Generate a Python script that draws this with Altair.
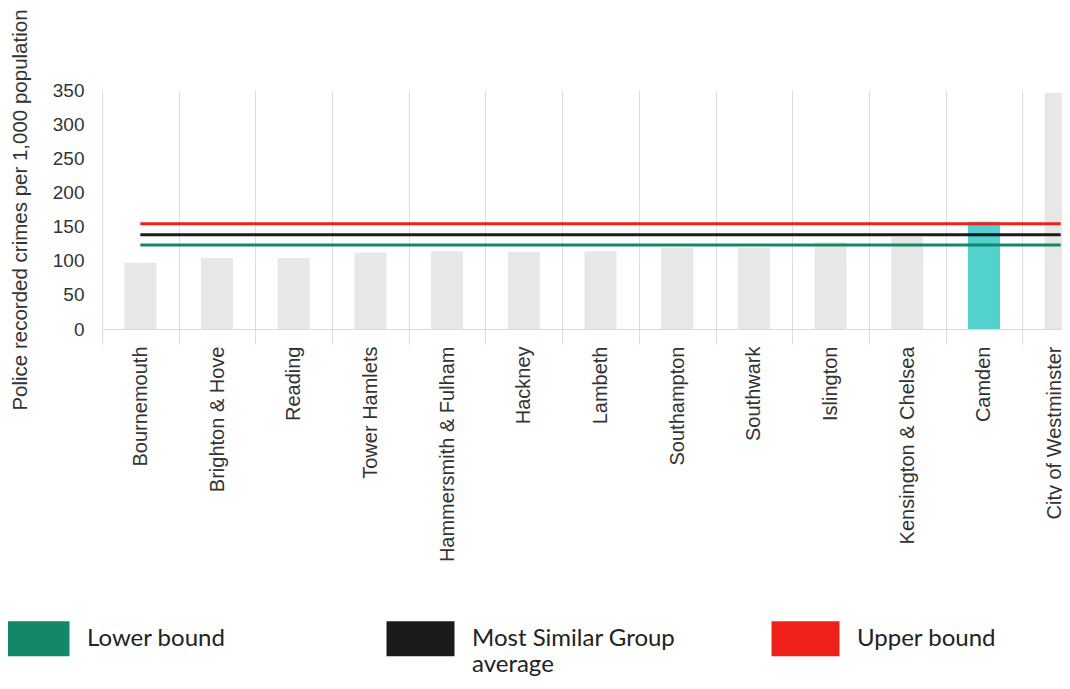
import altair as alt
import pandas as pd

categories = ["Bournemouth", "Brighton & Hove", "Reading", "Tower Hamlets",
              "Hammersmith & Fulham", "Hackney", "Lambeth", "Southampton",
              "Southwark", "Islington", "Kensington & Chelsea", "Camden",
              "City of Westminster"]
values = [97, 104, 104, 112, 114, 113, 114, 119, 119, 127, 135, 157, 346]
highlight = "Camden"

line_names = ["Lower bound", "Most Similar Group average", "Upper bound"]
line_values = [123, 138, 154]
line_colors = ["#12876a", "#1b1b1b", "#f0201a"]

y_ticks = [0, 50, 100, 150, 200, 250, 300, 350]

bars_df = pd.DataFrame({
    "area": categories,
    "value": values,
    "is_hl": [c == highlight for c in categories],
})
lines_df = pd.DataFrame({
    "name": line_names,
    "value": line_values,
    "start": [categories[0]] * len(line_names),
    "end": [categories[-1]] * len(line_names),
})

x_scale = alt.Scale(domain=categories, paddingInner=0, paddingOuter=0,
                    range=[0, 997], round=False)
y_scale = alt.Scale(domain=[0, 350], nice=False)

last_label_shift = {
    "condition": {"test": "datum.value == 'City of Westminster'", "value": -6},
    "value": 0,
}

x_axis = alt.Axis(title=None, labelAngle=-90, labelFontSize=20,
                  labelFont="Liberation Sans", labelColor="#333333",
                  labelPadding=2, labelLimit=400,
                  labelOffset=last_label_shift,
                  grid=True, gridColor="#dedede", gridWidth=1,
                  ticks=True, tickBand="extent", tickSize=15,
                  tickColor="#dedede", domainColor="#dadada")
y_axis = alt.Axis(title="Police recorded crimes per 1,000 population",
                  values=y_ticks, grid=False, ticks=False, domain=False,
                  labelOverlap=False,
                  labelFontSize=19, labelFont="Liberation Sans",
                  labelColor="#333333", labelPadding=18,
                  titleFontSize=20.5, titleFont="Liberation Sans",
                  titleFontWeight="normal", titleColor="#333333",
                  titlePadding=22)

bars = alt.Chart(bars_df).mark_bar(width=32).encode(
    x=alt.X("area:N", scale=x_scale, sort=categories, axis=x_axis),
    y=alt.Y("value:Q", scale=y_scale, axis=y_axis),
    color=alt.condition(alt.datum.is_hl, alt.value("#52d1cf"), alt.value("#e7e7e7")),
)

label_expr = ("datum.label == 'Most Similar Group average' ? "
              "['Most Similar Group', 'average'] : datum.label")

rules = alt.Chart(lines_df).mark_rule(strokeWidth=3).encode(
    x=alt.X("start:N", scale=x_scale, sort=categories, axis=x_axis),
    x2="end:N",
    y=alt.Y("value:Q", scale=y_scale, axis=y_axis),
    color=alt.Color("name:N",
                    scale=alt.Scale(domain=line_names, range=line_colors),
                    legend=alt.Legend(title=None, orient="none", legendX=-118,
                                      legendY=497, direction="horizontal",
                                      columns=3, gridAlign="all",
                                      columnPadding=25, symbolType="stroke",
                                      symbolSize=4624, symbolStrokeWidth=35,
                                      labelFont="Lato", labelFontSize=24,
                                      labelColor="#222222", labelOffset=0,
                                      labelLimit=400, padding=0,
                                      labelExpr=label_expr)),
)

chart = alt.layer(bars, rules).properties(
    width=960, height=239,
    autosize=alt.AutoSizeParams(type="none"),
    padding={"left": 94, "top": 82, "right": 0, "bottom": 352},
    background="white",
).configure_view(stroke=None)

chart.save("out.html", embed_options={"renderer": "svg", "actions": False})
